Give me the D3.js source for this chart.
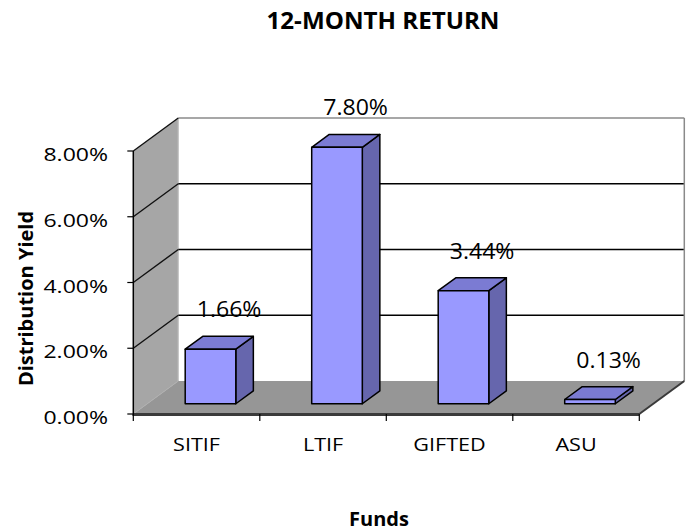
<!DOCTYPE html>
<html><head><meta charset="utf-8">
<script src="https://cdn.jsdelivr.net/npm/d3@7"></script>
<style>html,body{margin:0;padding:0;background:#fff;overflow:hidden}</style>
</head><body><svg id="c" width="687" height="531"></svg>
<script>
const categories = ["SITIF", "LTIF", "GIFTED", "ASU"];
const values = [1.66, 7.80, 3.44, 0.13];
const valueLabels = ["1.66%", "7.80%", "3.44%", "0.13%"];
const yTicks = [0, 2, 4, 6, 8];
const yTickLabels = ["0.00%", "2.00%", "4.00%", "6.00%", "8.00%"];
const chartTitle = "12-MONTH RETURN";
const xTitle = "Funds";
const yTitle = "Distribution Yield";

const svg = d3.select('#c');
const FONT = '"Open Sans", sans-serif';
const X0 = 133.3, X1 = 639.3, DX = 45, DY = -33;
const x = d3.scaleBand().domain(categories).range([X0, X1]).paddingInner(0.6).paddingOuter(0.3);
const y = d3.scaleLinear().domain([0, 8]).range([414, 151]);
const y0 = y(0), yTop = y(8);

function txt(g, s, tx, ty, opt) {
  const t = g.append('text')
    .attr('transform', `translate(${tx},${ty})` + (opt.rot ? ` rotate(${opt.rot})` : '') + ` scale(${opt.sx || 1},1)`)
    .attr('text-anchor', opt.anchor || 'middle')
    .attr('font-family', FONT)
    .attr('font-size', opt.size)
    .attr('font-weight', opt.bold ? 700 : 400)
    .attr('fill', '#000')
    .text(s);
  return t;
}

// walls
svg.append('rect').attr('x', X0 + DX).attr('y', yTop + DY).attr('width', X1 - X0).attr('height', y0 - yTop).attr('fill', '#fff');
svg.append('polygon').attr('points', [[X0, y0], [X0, yTop], [X0 + DX, yTop + DY], [X0 + DX, y0 + DY]].join(' ')).attr('fill', '#a6a6a6');
svg.append('line').attr('x1', X0 + DX).attr('x2', X0 + DX).attr('y1', yTop + DY).attr('y2', y0 + DY).attr('stroke', '#c4c4c4').attr('stroke-width', 1.2);
// floor
svg.append('polygon').attr('points', [[X0, y0], [X1, y0], [X1 + DX, y0 + DY], [X0 + DX, y0 + DY]].join(' ')).attr('fill', '#969696');
svg.append('line').attr('x1', X0).attr('y1', y0).attr('x2', X0 + DX).attr('y2', y0 + DY).attr('stroke', '#b0b0b0').attr('stroke-width', 1);

// gridlines
yTicks.forEach(t => {
  if (t === 0) return;
  const yy = y(t);
  const last = t === 8;
  svg.append('line').attr('x1', X0 + DX).attr('x2', X1 + DX).attr('y1', yy + DY).attr('y2', yy + DY)
    .attr('stroke', last ? '#8a8a8a' : '#000').attr('stroke-width', last ? 1.5 : 1.6);
  svg.append('line').attr('x1', X0).attr('x2', X0 + DX).attr('y1', yy).attr('y2', yy + DY)
    .attr('stroke', '#111').attr('stroke-width', 1.4);
});
// right edge of back wall
svg.append('line').attr('x1', X1 + DX).attr('x2', X1 + DX).attr('y1', yTop + DY).attr('y2', y0 + DY).attr('stroke', '#8a8a8a').attr('stroke-width', 1.5);

// floor edges
svg.append('line').attr('x1', X0).attr('x2', X1).attr('y1', y0 + 0.5).attr('y2', y0 + 0.5).attr('stroke', '#3a3a3a').attr('stroke-width', 3);
svg.append('line').attr('x1', X1).attr('y1', y0).attr('x2', X1 + DX).attr('y2', y0 + DY).attr('stroke', '#3a3a3a').attr('stroke-width', 2);

// value axis line and ticks
svg.append('line').attr('x1', X0).attr('x2', X0).attr('y1', yTop).attr('y2', y0 + 2).attr('stroke', '#000').attr('stroke-width', 1.5);
yTicks.forEach((t, i) => {
  svg.append('line').attr('x1', X0 - 6).attr('x2', X0).attr('y1', y(t)).attr('y2', y(t)).attr('stroke', '#000').attr('stroke-width', 1.2);
  txt(svg, yTickLabels[i], 108, y(t) + 10, {size: 18, sx: 1.28, anchor: 'end'});
});

// category ticks
const bounds = categories.map(c => x(c) + x.bandwidth() / 2 - x.step() / 2).concat([X1]);
bounds.forEach(b => {
  svg.append('line').attr('x1', b).attr('x2', b).attr('y1', y0).attr('y2', y0 + 7).attr('stroke', '#000').attr('stroke-width', 1.2);
});
categories.forEach(c => {
  txt(svg, c, x(c) + x.bandwidth() / 2, 451, {size: 18, sx: 1.2});
});

// bars
const f1 = 0.31, f2 = 0.70;
const ox = DX * f1, oy = DY * f1, ddx = DX * (f2 - f1), ddy = DY * (f2 - f1);
const bw = x.bandwidth();
categories.forEach((c, i) => {
  const v = values[i];
  const xl = x(c) + ox, xr = xl + bw, yb = y0 + oy, yt = y(v) + oy;
  const g = svg.append('g').attr('stroke', '#000').attr('stroke-width', 1.5).attr('stroke-linejoin', 'round');
  g.append('polygon').attr('points', [[xr, yt], [xr + ddx, yt + ddy], [xr + ddx, yb + ddy], [xr, yb]].join(' ')).attr('fill', '#6666ad');
  g.append('polygon').attr('points', [[xl, yt], [xr, yt], [xr + ddx, yt + ddy], [xl + ddx, yt + ddy]].join(' ')).attr('fill', '#7b7bd3');
  g.append('rect').attr('x', xl).attr('y', yt).attr('width', bw).attr('height', yb - yt).attr('fill', '#9999ff');
  txt(svg, valueLabels[i], xl + bw / 2 + ddx + 1, yt + ddy - 19, {size: 21, sx: 1.1});
});

// titles
txt(svg, chartTitle, 383, 29, {size: 23, bold: true, sx: 1.05});
txt(svg, xTitle, 379, 526, {size: 20, bold: true});
txt(svg, yTitle, 33, 298.5, {size: 20, bold: true, rot: -90});
</script>
</body></html>
